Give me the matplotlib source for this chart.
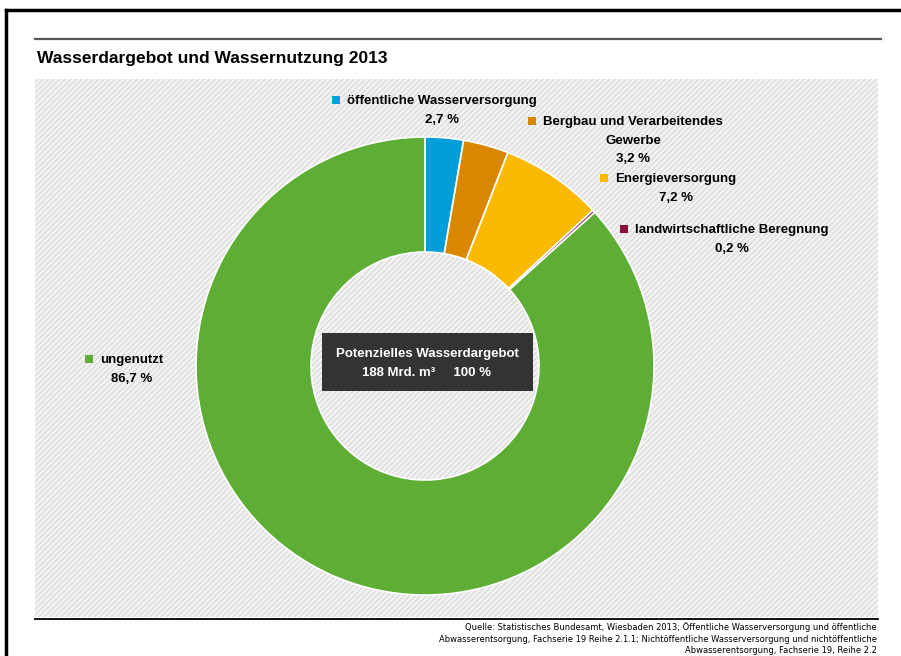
import matplotlib.pyplot as plt
from matplotlib.patches import Rectangle
from matplotlib.lines import Line2D

plt.rcParams['font.family'] = ['Liberation Sans', 'DejaVu Sans']
plt.rcParams['hatch.linewidth'] = 1.0
plt.rcParams['hatch.color'] = '#dcdcdc'

# Daten
kategorien = ['öffentliche Wasserversorgung', 'Bergbau und Verarbeitendes\nGewerbe',
              'Energieversorgung', 'landwirtschaftliche Beregnung', 'ungenutzt']
anteile = [2.7, 3.2, 7.2, 0.2, 86.7]
beschriftung = ['2,7 %', '3,2 %', '7,2 %', '0,2 %', '86,7 %']
farben = ['#009fd9', '#d98700', '#fbba00', '#8c0e3d', '#5eae36']

# Layout in Pixeln (x Mitte, y oben)
label_pos = [(442, 95), (633, 116), (676, 173), (732, 224), (132, 354)]

W, H = 901, 656
fig = plt.figure(figsize=(W / 100, H / 100), dpi=100)
ax = fig.add_axes([0, 0, 1, 1])

def py(y):
    return H - y

# Hintergrund mit Schraffur
ax.add_patch(Rectangle((35, py(617)), 843, 538, facecolor='#f3f3f3',
                       edgecolor='#dcdcdc', hatch='//////', linewidth=0, zorder=0))

# Ring
ax.pie(anteile, colors=farben, startangle=90, counterclock=False,
       center=(425, py(366)), radius=229,
       wedgeprops=dict(width=115, edgecolor='white', linewidth=1.2))
ax.set_xlim(0, W)
ax.set_ylim(0, H)
ax.set_aspect('equal')
ax.axis('off')

# Rahmen und Linien
fig.add_artist(Line2D([6 / W, 1], [py(10) / H, py(10) / H], color='black', lw=2.5))
fig.add_artist(Line2D([6 / W, 6 / W], [0, py(10) / H], color='black', lw=2.5))
ax.plot([35, 881], [py(39), py(39)], color='#555555', lw=1.6)
ax.plot([35, 878], [py(619), py(619)], color='black', lw=1.3)

ax.text(37, py(58), 'Wasserdargebot und Wassernutzung 2013', fontsize=12.5,
        fontweight='bold', va='center', ha='left')

# Beschriftungen
fig.canvas.draw()
renderer = fig.canvas.get_renderer()
for name, wert, farbe, (cx, ty) in zip(kategorien, beschriftung, farben, label_pos):
    t = ax.text(cx, py(ty), name + '\n' + wert, fontsize=9.5, fontweight='bold',
                ha='center', va='top', multialignment='center', linespacing=1.75)
    bb = t.get_window_extent(renderer)
    ax.add_patch(Rectangle((bb.x0 - 15, py(ty) - 9), 8, 8, color=farbe, lw=0))

# Box in der Mitte
ax.add_patch(Rectangle((322, py(391)), 211, 58, facecolor='#333333', edgecolor='none'))
ax.text(427, py(354), 'Potenzielles Wasserdargebot', color='white', fontsize=9.5,
        fontweight='bold', ha='center', va='center')
ax.text(427, py(373), '188 Mrd. m³     100 %', color='white', fontsize=9.5,
        fontweight='bold', ha='center', va='center')

# Quelle
quelle = ('Quelle: Statistisches Bundesamt, Wiesbaden 2013; Öffentliche Wasserversorgung und öffentliche\n'
          'Abwasserentsorgung, Fachserie 19 Reihe 2.1.1; Nichtöffentliche Wasserversorgung und nichtöffentliche\n'
          'Abwasserentsorgung, Fachserie 19, Reihe 2.2')
ax.text(877, py(622), quelle, fontsize=6, ha='right', va='top', linespacing=1.4,
        family='Liberation Sans Narrow')

fig.savefig('out.png', dpi=100)
